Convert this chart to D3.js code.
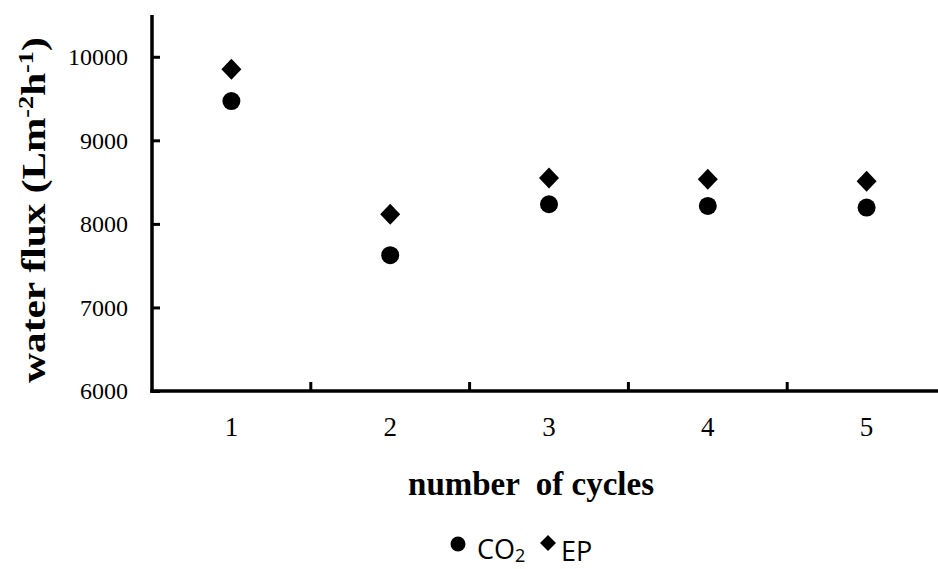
<!DOCTYPE html>
<html>
<head>
<meta charset="utf-8">
<script src="https://cdn.jsdelivr.net/npm/d3@7"></script>
<style>
  body { margin: 0; background: #fff; }
  svg { display: block; }
</style>
</head>
<body>
<div id="chart"></div>
<script>
// chart data
var cycles = [1, 2, 3, 4, 5];
var co2Flux = [9470, 7625, 8235, 8215, 8195];
var epFlux = [9850, 8115, 8550, 8535, 8510];
var yTicks = [6000, 7000, 8000, 9000, 10000];

var serif = '"Liberation Serif", "Times New Roman", serif';
var width = 938, height = 569;
var margin = { top: 15, left: 152, bottom: 178, right: -8 };

var svg = d3.select('#chart').append('svg')
  .attr('width', width)
  .attr('height', height);

var x = d3.scaleBand()
  .domain(cycles)
  .range([margin.left, width - margin.right]);

var y = d3.scaleLinear()
  .domain([6000, 10500])
  .range([height - margin.bottom, margin.top]);

var y0 = y(6000);

// y axis, ticks pointing inward
var yAxis = svg.append('g')
  .attr('transform', 'translate(' + margin.left + ',0)')
  .call(d3.axisLeft(y).tickValues(yTicks).tickSize(-8).tickPadding(24).tickFormat(d3.format('d')));
yAxis.select('.domain').remove();
yAxis.selectAll('.tick line').attr('stroke', '#000').attr('stroke-width', 3);
yAxis.selectAll('.tick text')
  .attr('font-family', null)
  .style('font-family', serif)
  .style('font-size', '24px')
  .attr('fill', '#000');

svg.append('line')
  .attr('x1', margin.left).attr('x2', margin.left)
  .attr('y1', margin.top).attr('y2', y0 + 1.75)
  .attr('stroke', '#000').attr('stroke-width', 3.5);

// x axis with ticks between categories
svg.append('line')
  .attr('x1', margin.left - 1.75).attr('x2', width)
  .attr('y1', y0).attr('y2', y0)
  .attr('stroke', '#000').attr('stroke-width', 3.5);

svg.append('g').selectAll('line')
  .data(cycles.slice(1))
  .enter()
  .append('line')
  .attr('x1', function(d) { return x(d); })
  .attr('x2', function(d) { return x(d); })
  .attr('y1', y0)
  .attr('y2', y0 - 9)
  .attr('stroke', '#000').attr('stroke-width', 3);

svg.append('g').selectAll('text')
  .data(cycles)
  .enter()
  .append('text')
  .attr('x', function(d) { return x(d) + x.bandwidth() / 2; })
  .attr('y', y0 + 45)
  .attr('text-anchor', 'middle')
  .style('font-family', serif)
  .style('font-size', '27px')
  .text(function(d) { return d; });

// axis titles (y title is stretched along its length like the original)
var yTitle = svg.append('text')
  .attr('transform', 'translate(45,210) rotate(-90) scale(1.25,1)')
  .attr('text-anchor', 'middle')
  .style('font-family', serif)
  .style('font-size', '33px')
  .style('font-weight', 'bold')
  .attr('fill', '#000');
yTitle.append('tspan').text('water flux (Lm');
yTitle.append('tspan').attr('dy', -12).style('font-size', '21px').text('-2');
yTitle.append('tspan').attr('dy', 12).text('h');
yTitle.append('tspan').attr('dy', -12).style('font-size', '21px').text('-1');
yTitle.append('tspan').attr('dy', 12).text(')');

svg.append('text')
  .attr('x', 531)
  .attr('y', 495)
  .attr('text-anchor', 'middle')
  .attr('xml:space', 'preserve')
  .style('white-space', 'pre')
  .style('font-family', serif)
  .style('font-size', '33px')
  .style('font-weight', 'bold')
  .text('number  of cycles');

// markers
var cx = function(i) { return x(cycles[i]) + x.bandwidth() / 2; };

svg.append('g').selectAll('circle')
  .data(co2Flux)
  .enter()
  .append('circle')
  .attr('cx', function(d, i) { return cx(i); })
  .attr('cy', function(d) { return y(d); })
  .attr('r', 9)
  .attr('fill', '#000');

var diamond = 'M0,-10.5L10,0L0,10.5L-10,0Z';
svg.append('g').selectAll('path')
  .data(epFlux)
  .enter()
  .append('path')
  .attr('d', diamond)
  .attr('transform', function(d, i) { return 'translate(' + cx(i) + ',' + y(d) + ')'; })
  .attr('fill', '#000');

// legend
var leg = svg.append('g').style('font-family', '"Open Sans", sans-serif');
leg.append('circle').attr('cx', 458).attr('cy', 544).attr('r', 7.5).attr('fill', '#000');
var t1 = leg.append('text').attr('x', 477).attr('y', 559).style('font-size', '27px');
t1.append('tspan').text('CO');
t1.append('tspan').attr('dy', 3).style('font-size', '18px').text('2');
leg.append('path').attr('d', 'M0,-8L8,0L0,8L-8,0Z').attr('transform', 'translate(548,543)').attr('fill', '#000');
leg.append('text').attr('x', 561).attr('y', 561).style('font-size', '27px').text('EP');
</script>
</body>
</html>
